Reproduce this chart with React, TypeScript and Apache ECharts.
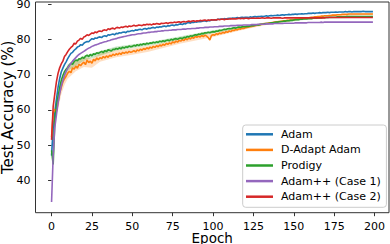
import React, { useEffect, useRef } from "react";
import * as echarts from "echarts";

const FONT = "DejaVu Sans";

const seriesNames = ["Adam", "D-Adapt Adam", "Prodigy", "Adam++ (Case 1)", "Adam++ (Case 2)"];
const colors = ["#1f77b4", "#ff7f0e", "#2ca02c", "#9467bd", "#d62728"];
const xTicks = [0, 25, 50, 75, 100, 125, 150, 175, 200];
const yTicks = [40, 50, 60, 70, 80, 90];

const adam = [
  47.0, 55.0, 59.2, 63.0, 66.4, 68.9, 70.8, 71.9, 72.9, 73.7,
  74.6, 75.4, 76.1, 76.4, 77.0, 77.4, 77.9, 78.1, 78.6, 78.4,
  79.0, 79.3, 79.5, 79.4, 79.9, 80.3, 80.1, 80.5, 80.4, 80.7,
  80.8, 80.6, 81.0, 81.1, 80.9, 81.4, 81.3, 81.5, 81.6, 81.4,
  81.8, 81.7, 82.0, 81.9, 82.1, 82.2, 82.0, 82.4, 82.3, 82.5,
  82.6, 82.5, 82.8, 82.7, 82.9, 83.0, 82.8, 83.1, 83.2, 83.0,
  83.3, 83.2, 83.4, 83.5, 83.3, 83.6, 83.5, 83.7, 83.6, 83.8,
  83.9, 83.7, 84.0, 83.9, 84.1, 84.2, 84.0, 84.3, 84.2, 84.4,
  84.5, 84.3, 84.6, 84.5, 84.8, 84.9, 84.7, 85.0, 84.9, 85.1,
  85.0, 85.2, 85.1, 85.2, 85.3, 85.4, 85.2, 85.5, 85.4, 85.6,
  85.6, 85.7, 85.6, 85.8, 85.8, 85.9, 85.8, 86.0, 85.9, 86.0,
  86.1, 86.0, 86.2, 86.1, 86.2, 86.3, 86.2, 86.3, 86.4, 86.3,
  86.4, 86.4, 86.3, 86.5, 86.4, 86.5, 86.6, 86.5, 86.6, 86.6,
  86.7, 86.6, 86.7, 86.8, 86.7, 86.8, 86.9, 86.8, 86.9, 86.9,
  87.0, 86.9, 87.0, 87.1, 87.0, 87.1, 87.1, 87.2, 87.1, 87.2,
  87.2, 87.3, 87.2, 87.3, 87.3, 87.4, 87.3, 87.4, 87.4, 87.5,
  87.5, 87.5, 87.6, 87.5, 87.6, 87.6, 87.7, 87.6, 87.7, 87.7,
  87.7, 87.8, 87.7, 87.8, 87.8, 87.8, 87.9, 87.8, 87.9, 87.9,
  87.9, 87.9, 88.0, 87.9, 88.0, 88.0, 87.9, 88.0, 88.0, 88.0,
  88.0, 88.0, 88.0, 88.1, 88.0, 88.0, 88.0, 88.0, 88.0, 88.0,
];

const dAdapt = [
  52.4, 59.0, 60.2, 59.6, 62.0, 64.8, 66.4, 68.0, 68.9, 69.6,
  70.5, 71.0, 70.6, 72.0, 71.6, 72.5, 71.9, 73.0, 72.6, 73.2,
  73.6, 72.9, 74.2, 73.5, 73.9, 73.3, 74.4, 74.0, 74.8, 74.3,
  74.9, 74.6, 75.2, 74.8, 75.4, 75.0, 75.6, 75.3, 75.9, 75.5,
  76.0, 75.7, 76.2, 75.8, 76.4, 76.1, 76.5, 76.2, 76.7, 76.4,
  76.6, 76.9, 76.5, 77.1, 76.8, 77.3, 77.0, 77.5, 77.2, 77.7,
  77.4, 77.9, 77.6, 78.1, 77.8, 78.3, 78.0, 78.5, 78.2, 78.7,
  78.4, 78.9, 78.7, 79.1, 78.8, 79.4, 79.1, 79.6, 79.3, 79.8,
  79.6, 80.0, 79.8, 80.3, 80.0, 80.5, 80.2, 80.7, 80.4, 80.9,
  80.7, 81.0, 80.8, 81.2, 80.9, 81.3, 81.0, 80.6, 79.9, 81.2,
  81.4, 81.3, 81.7, 81.5, 81.9, 81.7, 82.1, 81.9, 82.3, 82.1,
  82.5, 82.3, 82.7, 82.6, 82.9, 82.8, 83.1, 83.0, 83.3, 83.2,
  83.4, 83.5, 83.6, 83.7, 83.8, 83.9, 84.0, 84.1, 84.2, 84.3,
  84.4, 84.5, 84.6, 84.6, 84.7, 84.8, 84.8, 84.9, 85.0, 85.0,
  85.1, 85.2, 85.2, 85.3, 85.4, 85.4, 85.5, 85.5, 85.6, 85.6,
  85.7, 85.8, 85.8, 85.9, 85.9, 86.0, 86.1, 86.1, 86.2, 86.2,
  86.3, 86.4, 86.4, 86.5, 86.5, 86.6, 86.6, 86.7, 86.7, 86.8,
  86.8, 86.8, 86.9, 86.9, 87.0, 87.0, 87.0, 87.1, 87.1, 87.1,
  87.2, 87.2, 87.2, 87.2, 87.3, 87.3, 87.3, 87.3, 87.3, 87.3,
  87.3, 87.3, 87.3, 87.3, 87.3, 87.3, 87.3, 87.3, 87.3, 87.3,
];

const prodigy = [
  48.5, 44.5, 57.0, 61.0, 63.8, 66.3, 68.4, 69.8, 70.9, 71.6,
  72.1, 72.8, 73.3, 73.0, 73.8, 74.2, 74.0, 74.6, 74.5, 75.0,
  74.7, 75.3, 75.6, 75.2, 75.8, 75.4, 76.0, 75.8, 76.3, 76.1,
  76.4, 76.7, 76.3, 76.9, 76.6, 77.1, 77.0, 76.8, 77.3, 77.2,
  77.5, 77.3, 77.7, 77.4, 77.9, 77.6, 78.0, 77.8, 78.2, 78.0,
  78.1, 78.4, 78.2, 78.6, 78.3, 78.7, 78.5, 78.9, 78.6, 79.0,
  78.8, 79.1, 79.0, 79.3, 79.1, 79.4, 79.2, 79.6, 79.4, 79.7,
  79.5, 79.8, 79.9, 79.7, 80.1, 79.9, 80.2, 80.3, 80.1, 80.4,
  80.5, 80.3, 80.7, 80.6, 80.9, 80.8, 81.1, 81.0, 81.2, 81.4,
  81.3, 81.6, 81.5, 81.8, 81.7, 82.0, 81.9, 82.1, 82.0, 82.2,
  82.3, 82.2, 82.5, 82.4, 82.7, 82.6, 82.8, 83.0, 82.9, 83.1,
  83.2, 83.1, 83.3, 83.4, 83.3, 83.5, 83.6, 83.5, 83.7, 83.7,
  83.7, 83.8, 83.8, 83.9, 84.0, 84.0, 84.1, 84.2, 84.2, 84.3,
  84.4, 84.4, 84.5, 84.6, 84.6, 84.7, 84.8, 84.8, 84.9, 85.0,
  85.0, 85.1, 85.2, 85.2, 85.3, 85.3, 85.4, 85.4, 85.5, 85.5,
  85.6, 85.7, 85.7, 85.7, 85.8, 85.8, 85.9, 85.9, 85.9, 86.0,
  86.0, 86.0, 86.1, 86.1, 86.1, 86.2, 86.2, 86.2, 86.3, 86.3,
  86.3, 86.3, 86.4, 86.4, 86.4, 86.4, 86.4, 86.5, 86.5, 86.5,
  86.5, 86.5, 86.5, 86.6, 86.6, 86.6, 86.6, 86.6, 86.6, 86.6,
  86.6, 86.6, 86.6, 86.6, 86.6, 86.6, 86.6, 86.6, 86.6, 86.6,
];

const adamPP1 = [
  33.8, 47.0, 55.0, 58.5, 62.0, 64.6, 66.8, 68.4, 69.9, 71.0,
  71.9, 72.6, 73.3, 73.9, 74.4, 74.9, 75.4, 75.8, 76.1, 76.4,
  76.7, 77.0, 77.3, 77.6, 77.8, 78.1, 78.3, 78.5, 78.6, 78.8,
  79.0, 79.1, 79.3, 79.4, 79.5, 79.7, 79.8, 80.0, 80.1, 80.2,
  80.3, 80.5, 80.6, 80.7, 80.8, 80.9, 81.0, 81.1, 81.2, 81.3,
  81.4, 81.4, 81.5, 81.6, 81.7, 81.7, 81.8, 81.9, 81.9, 82.0,
  82.1, 82.1, 82.2, 82.2, 82.3, 82.3, 82.4, 82.4, 82.5, 82.5,
  82.6, 82.6, 82.6, 82.7, 82.7, 82.8, 82.8, 82.8, 82.9, 82.9,
  82.9, 83.0, 83.0, 83.0, 83.1, 83.1, 83.1, 83.2, 83.2, 83.2,
  83.3, 83.3, 83.4, 83.4, 83.4, 83.5, 83.5, 83.5, 83.6, 83.6,
  83.6, 83.7, 83.7, 83.7, 83.8, 83.8, 83.8, 83.9, 83.9, 83.9,
  83.9, 84.0, 84.0, 84.0, 84.0, 84.1, 84.1, 84.1, 84.1, 84.2,
  84.2, 84.2, 84.2, 84.2, 84.3, 84.3, 84.3, 84.3, 84.4, 84.4,
  84.4, 84.4, 84.4, 84.5, 84.5, 84.5, 84.5, 84.5, 84.6, 84.6,
  84.6, 84.6, 84.6, 84.6, 84.7, 84.7, 84.7, 84.7, 84.7, 84.7,
  84.7, 84.8, 84.8, 84.8, 84.8, 84.8, 84.8, 84.8, 84.8, 84.9,
  84.9, 84.9, 84.9, 84.9, 84.9, 84.9, 84.9, 85.0, 84.9, 85.0,
  85.0, 85.0, 85.0, 85.0, 85.0, 85.0, 85.0, 85.0, 85.0, 85.0,
  85.0, 85.0, 85.0, 85.0, 85.0, 85.0, 85.0, 85.0, 85.0, 85.0,
  85.0, 85.0, 85.0, 85.0, 85.0, 85.0, 85.0, 85.0, 85.0, 85.0,
];

const adamPP2 = [
  51.5, 61.0, 64.6, 68.0, 70.4, 72.0, 73.1, 73.9, 75.2, 75.8,
  76.6, 77.3, 77.8, 78.2, 79.0, 78.8, 79.6, 79.9, 80.4, 80.1,
  80.8, 81.0, 81.4, 81.2, 81.6, 81.9, 81.8, 82.2, 82.0, 82.4,
  82.5, 82.3, 82.7, 82.8, 82.6, 83.1, 82.9, 83.2, 83.3, 83.0,
  83.4, 83.5, 83.3, 83.6, 83.5, 83.7, 83.8, 83.6, 83.9, 83.8,
  83.9, 84.1, 83.9, 84.0, 84.2, 84.1, 84.0, 84.3, 84.2, 84.4,
  84.3, 84.4, 84.2, 84.5, 84.4, 84.6, 84.5, 84.4, 84.7, 84.6,
  84.7, 84.8, 84.6, 84.8, 84.9, 84.8, 85.0, 84.9, 85.0, 85.1,
  84.9, 85.1, 85.2, 85.0, 85.2, 85.3, 85.1, 85.3, 85.4, 85.2,
  85.4, 85.3, 85.5, 85.4, 85.5, 85.6, 85.4, 85.6, 85.5, 85.7,
  85.6, 85.7, 85.6, 85.8, 85.7, 85.8, 85.9, 85.7, 85.9, 85.8,
  85.9, 86.0, 85.9, 86.0, 85.9, 86.0, 86.1, 86.0, 86.1, 86.0,
  86.1, 86.1, 86.0, 86.1, 86.1, 86.2, 86.1, 86.1, 86.2, 86.1,
  86.2, 86.2, 86.1, 86.2, 86.2, 86.2, 86.1, 86.2, 86.2, 86.2,
  86.2, 86.2, 86.2, 86.1, 86.2, 86.2, 86.2, 86.2, 86.2, 86.2,
  86.2, 86.2, 86.2, 86.2, 86.2, 86.2, 86.2, 86.2, 86.2, 86.2,
  86.2, 86.2, 86.2, 86.2, 86.2, 86.2, 86.2, 86.2, 86.2, 86.2,
  86.3, 86.3, 86.3, 86.3, 86.3, 86.3, 86.3, 86.3, 86.3, 86.3,
  86.3, 86.3, 86.3, 86.3, 86.3, 86.3, 86.3, 86.3, 86.3, 86.3,
  86.3, 86.3, 86.3, 86.3, 86.3, 86.3, 86.3, 86.3, 86.3, 86.3,
];

// spread (half-width) of the shaded bands, read at selected epochs
const dAdaptBandEpochs = [0, 2, 4, 6, 8, 10, 15, 20, 25, 30, 40, 50, 60, 80, 100, 120, 140, 170, 199];
const dAdaptSpread = [1.5, 2.0, 2.0, 2.0, 1.8, 1.6, 1.5, 1.4, 1.3, 1.2, 1.0, 0.9, 0.8, 0.7, 0.6, 0.4, 0.3, 0.2, 0.2];
const prodigyBandEpochs = [0, 2, 5, 10, 20, 40, 60, 80, 100, 130, 160, 199];
const prodigySpread = [1.5, 1.5, 1.2, 0.9, 0.7, 0.6, 0.5, 0.5, 0.4, 0.3, 0.2, 0.2];

const allSeries = [adam, dAdapt, prodigy, adamPP1, adamPP2];

function bandSeries(values: number[], epochs: number[], spread: number[], color: string) {
  const upper = epochs.map((e, i) => [e, values[e] + spread[i]]);
  const lower = epochs.map((e, i) => [e, values[e] - spread[i]]);
  return {
    type: "custom",
    coordinateSystem: "cartesian2d",
    silent: true,
    z: 1,
    data: [[epochs[0], values[0]]],
    renderItem: (_params: any, api: any) => {
      const pts = [
        ...upper.map((p) => api.coord(p)),
        ...lower.slice().reverse().map((p) => api.coord(p)),
      ];
      return {
        type: "polygon",
        shape: { points: pts },
        style: { fill: color, opacity: 0.25 },
      };
    },
  };
}

export default function App() {
  const ref = useRef<HTMLDivElement>(null);
  useEffect(() => {
    if (!ref.current) return;
    const chart = echarts.init(ref.current, null, { renderer: "svg" });
    const lineSeries = allSeries.map((vals, k) => ({
      type: "line",
      name: seriesNames[k],
      data: vals.map((v, i) => [i, v]),
      showSymbol: false,
      symbol: "none",
      z: 2 + k,
      lineStyle: { color: colors[k], width: 1.6 },
      itemStyle: { color: colors[k] },
    }));
    chart.setOption({
      animation: false,
      textStyle: { fontFamily: FONT },
      grid: {
        left: 35.5,
        right: 1,
        top: 2,
        bottom: 31.3,
        containLabel: false,
        outerBoundsMode: "none",
        show: true,
        borderColor: "#333",
        borderWidth: 1,
        backgroundColor: "transparent",
      },
      xAxis: {
        type: "value",
        min: -9.95,
        max: 208.95,
        name: "Epoch",
        nameLocation: "middle",
        nameGap: 18,
        nameMoveOverlap: false,
        nameTextStyle: { fontSize: 13.5, color: "#000", fontFamily: FONT },
        axisLine: { show: false },
        splitLine: { show: false },
        axisTick: { show: true, inside: false, length: 3.5, lineStyle: { color: "#333" }, customValues: xTicks },
        axisLabel: { customValues: xTicks, fontSize: 11, color: "#000", margin: 8, fontFamily: FONT },
      },
      yAxis: {
        type: "value",
        min: 30.77,
        max: 90.73,
        name: "Test Accuracy (%)",
        nameLocation: "middle",
        nameGap: 20,
        nameMoveOverlap: false,
        nameTextStyle: { fontSize: 15, color: "#000", fontFamily: FONT },
        axisLine: { show: false },
        splitLine: { show: false },
        axisTick: { show: true, inside: false, length: 3.5, lineStyle: { color: "#333" }, customValues: yTicks },
        axisLabel: { customValues: yTicks, fontSize: 11, lineHeight: 9, color: "#000", margin: 5, fontFamily: FONT },
      },
      legend: {
        data: seriesNames,
        orient: "vertical",
        left: 242.7,
        top: 125,
        padding: [2.3, 5.7, 3.6, 3.3],
        itemWidth: 27,
        itemHeight: 2.5,
        itemGap: 1.6,
        icon: "rect",
        backgroundColor: "rgba(255,255,255,0.8)",
        borderColor: "#cccccc",
        borderWidth: 1,
        borderRadius: 3,
        textStyle: { fontSize: 11, fontFamily: FONT, color: "#000", lineHeight: 14, padding: [0, 0, 0, 3] },
      },
      series: [
        bandSeries(dAdapt, dAdaptBandEpochs, dAdaptSpread, colors[1]),
        bandSeries(prodigy, prodigyBandEpochs, prodigySpread, colors[2]),
        ...lineSeries,
      ],
    });
    return () => chart.dispose();
  }, []);
  return <div ref={ref} style={{ width: 390, height: 244, position: "absolute", left: 0, top: 0 }} />;
}
